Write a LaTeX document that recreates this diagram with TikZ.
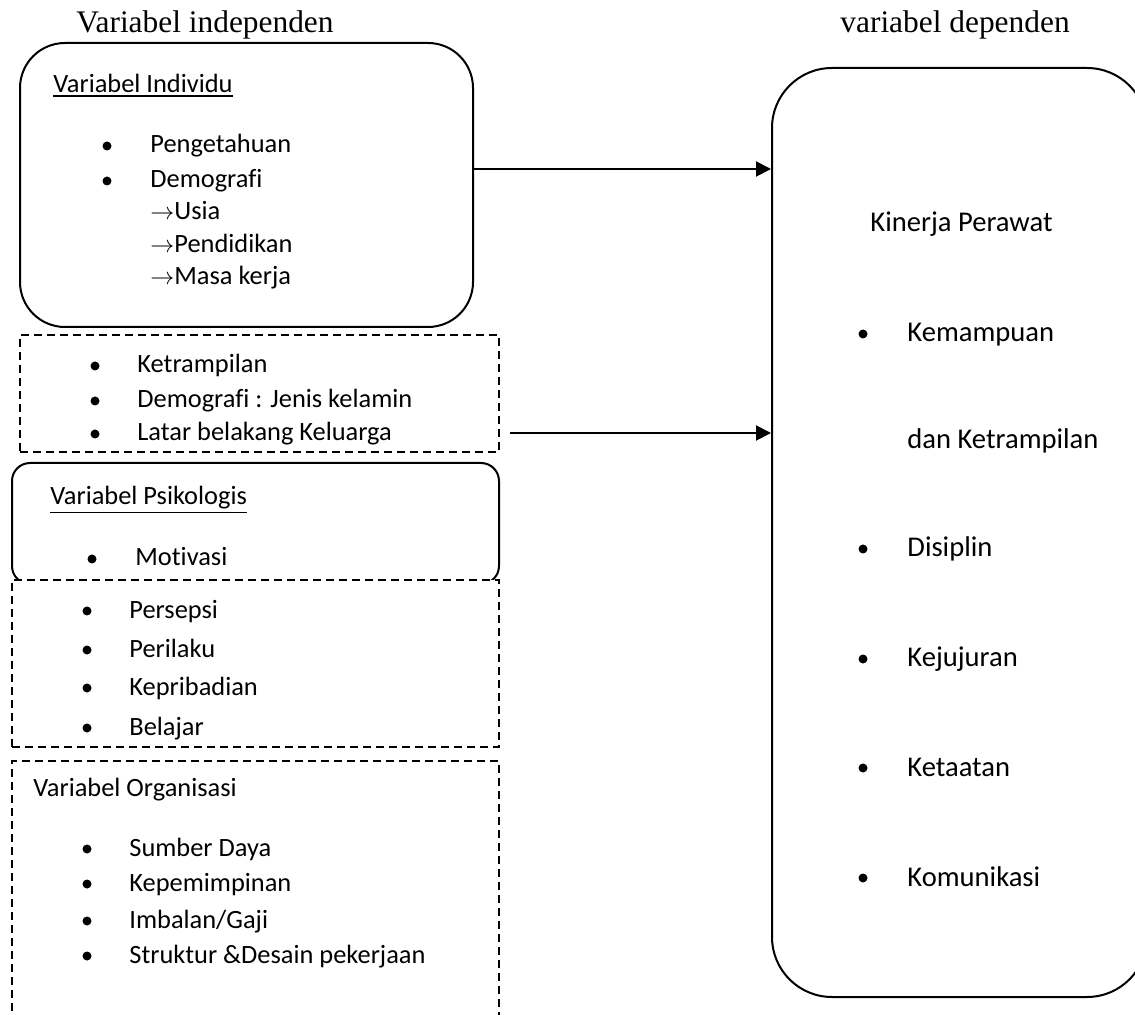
\documentclass[tikz,border=0pt]{standalone}
\usepackage{fontspec}
\setmainfont{Carlito}[Ligatures={NoCommon}]
\newfontfamily\titlefont{Liberation Serif}
\newcommand{\garis}[1]{\vtop{\hbox{#1}\kern1pt\hrule height 0.9pt}}
\usetikzlibrary{arrows.meta,fit}

\begin{document}
\begin{tikzpicture}[x=0.5pt,y=-0.5pt,
  solidbox/.style={draw, line width=1pt, inner sep=0pt},
  dashbox/.style={draw, line width=0.8pt, dash pattern=on 4pt off 2.5pt, inner sep=0pt},
  item/.style={anchor=base west, inner sep=0pt, font=\fontsize{13.2}{15}\selectfont},
  bigitem/.style={anchor=base west, inner sep=0pt, font=\fontsize{14.3}{17}\selectfont},
  dot/.style={circle, fill, inner sep=0pt, minimum size=4.5pt},
  title/.style={anchor=base west, inner sep=0pt, font=\titlefont\fontsize{15.7}{18}\selectfont},
  link/.style={-{Triangle[length=7.5pt,width=7.5pt]}, line width=1pt}]
\useasboundingbox (0,0) rectangle (1135,1015);
\clip (0,0) rectangle (1135,1015);

\node[title] (indep) at (76,33) {Variabel independen};
\node[title] (dep) at (840,33) {variabel dependen};

% kotak kiri
\node[solidbox, rounded corners=22.5pt, fit={(20,43) (473,327)}] (indiv) {};
\node[dashbox, fit={(20,335) (499,452)}] (skill) {};
\node[solidbox, rounded corners=9pt, fit={(12,463) (499,584)}] (psiko) {};
\node[dashbox, fill=white, fit={(12,580) (499,747)}] (psikolist) {};
\node[dashbox, fit={(12,761) (499,1040)}] (organ) {};

% kotak kanan
\node[solidbox, rounded corners=30pt, fit={(772,68) (1147,997)}] (kinerja) {};

\node[item] (indivhead) at (53,93) {\garis{Variabel Individu}};
\node[dot] (d1) at (107,146) {};
\node[item] (pengetahuan) at (150,153) {Pengetahuan};
\node[dot] (d2) at (107,181) {};
\node[item] (demografi) at (150,188) {Demografi};
\node[item] (usia) at (150,220) {$\rightarrow$Usia};
\node[item] (pendidikan) at (150,253) {$\rightarrow$Pendidikan};
\node[item] (masakerja) at (150,285) {$\rightarrow$Masa kerja};

\node[dot] (d3) at (95,366) {};
\node[item] (ketrampilan) at (137,373) {Ketrampilan};
\node[dot] (d4) at (95,401) {};
\node[item] (jenis) at (137,408) {Demografi : Jenis kelamin};
\node[dot] (d5) at (95,434) {};
\begin{scope}
\clip (20,335) rectangle (499,445);
\node[item] (latar) at (137,441) { Latar belakang Keluarga};
\end{scope}

\node[item] (psikohead) at (50,505) {\garis{Variabel Psikologis}};
\node[dot] (d6) at (92,559) {};
\node[item] (motivasi) at (135,566) {Motivasi};

\node[dot] (d7) at (87,611) {};
\node[item] (persepsi) at (129,618) {Persepsi};
\node[dot] (d8) at (87,650) {};
\node[item] (perilaku) at (129,657) {Perilaku};
\node[dot] (d9) at (87,688) {};
\node[item] (kepribadian) at (129,695) {Kepribadian};
\node[dot] (d10) at (87,728) {};
\node[item] (belajar) at (129,735) {Belajar};

\node[item] (organhead) at (33,796) {Variabel Organisasi};
\node[dot] (d11) at (87,849) {};
\node[item] (sumberdaya) at (129,856) {Sumber Daya};
\node[dot] (d12) at (87,884) {};
\node[item] (kepemimpinan) at (129,891) {Kepemimpinan};
\node[dot] (d13) at (87,921) {};
\node[item] (imbalan) at (129,928) {Imbalan/Gaji};
\node[dot] (d14) at (87,956) {};
\node[item] (struktur) at (129,963) {Struktur \&Desain pekerjaan};

\node[bigitem] (kinerjahead) at (870,232) {Kinerja Perawat};
\node[dot] (k1) at (863,334) {};
\node[bigitem] (kemampuan) at (907,342) {Kemampuan};
\node[bigitem] (danketr) at (907,449) {dan Ketrampilan};
\node[dot] (k2) at (863,549) {};
\node[bigitem] (disiplin) at (907,557) {Disiplin};
\node[dot] (k3) at (863,659) {};
\node[bigitem] (kejujuran) at (907,667) {Kejujuran};
\node[dot] (k4) at (863,768) {};
\node[bigitem] (ketaatan) at (907,776) {Ketaatan};
\node[dot] (k5) at (863,878) {};
\node[bigitem] (komunikasi) at (907,886) {Komunikasi};

% panah
\coordinate (y1) at (0,169);
\coordinate (s2) at (510,433);
\draw[link] (indiv.east |- y1) -- (kinerja.west |- y1);
\draw[link] (s2) -- (kinerja.west |- s2);

\end{tikzpicture}
\end{document}
